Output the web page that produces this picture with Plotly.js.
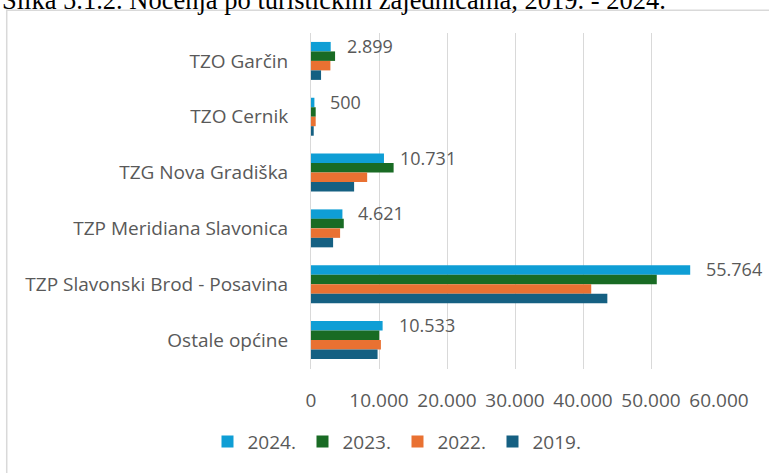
<!DOCTYPE html>
<html>
<head>
<meta charset="utf-8">
<script src="https://cdn.plot.ly/plotly-3.0.1.min.js"></script>
<style>html,body{margin:0;padding:0;background:#fff;}#chart{width:769px;height:473px;}</style>
</head>
<body>
<div id="chart"></div>
<script>
const categories = ['TZO Garčin','TZO Cernik','TZG Nova Gradiška','TZP Meridiana Slavonica','TZP Slavonski Brod - Posavina','Ostale općine'];
const years = ['2024.','2023.','2022.','2019.'];
const v2024 = [2899, 500, 10731, 4621, 55764, 10533];
const v2023 = [3540, 690, 12150, 4820, 50850, 10030];
const v2022 = [2850, 690, 8260, 4280, 41210, 10280];
const v2019 = [1480, 400, 6340, 3250, 43580, 9790];
const xTicks = [0, 10000, 20000, 30000, 40000, 50000, 60000];
const caption = 'Slika 5.1.2. Noćenja po turističkim zajednicama, 2019. - 2024.';

const colors = ['#0F9ED5', '#196B24', '#E97132', '#156082'];
const series = [v2024, v2023, v2022, v2019];
const FONT = 'Open Sans, sans-serif';
const GREY = '#595959';

function fmt(n){ return String(n).replace(/\B(?=(\d{3})+(?!\d))/g, '.'); }

const traces = series.map((vals, i) => ({
  type: 'bar', orientation: 'h', name: years[i],
  x: vals, y: categories,
  marker: {color: colors[i]},
  hoverinfo: 'skip'
}));

const annotations = categories.map((c, i) => ({
  x: v2024[i], y: c, xref: 'x', yref: 'y',
  text: fmt(v2024[i]), showarrow: false,
  xanchor: 'left', yanchor: 'middle', xshift: 14, yshift: 15,
  font: {family: FONT, size: 18, color: GREY}
}));
annotations.push({
  xref: 'paper', yref: 'paper', x: -0.763, y: 1.099, xanchor: 'left', yanchor: 'middle',
  text: caption, showarrow: false,
  font: {family: 'Liberation Serif, Times New Roman, serif', size: 26.5, color: '#000'}
});

const layout = {
  width: 769, height: 473,
  margin: {l: 311, r: 50, t: 33, b: 99},
  paper_bgcolor: '#fff', plot_bgcolor: '#fff',
  separators: ',.',
  barmode: 'group', bargap: 0.32, bargroupgap: 0,
  font: {family: FONT, size: 19, color: GREY},
  xaxis: {
    range: [0, 60000], tickvals: xTicks, ticktext: xTicks.map(fmt),
    showgrid: true, gridcolor: '#d9d9d9', gridwidth: 1,
    zeroline: false, showline: false,
    ticks: 'outside', ticklen: 14, tickcolor: 'rgba(0,0,0,0)',
    tickfont: {family: FONT, size: 19, color: GREY}, fixedrange: true
  },
  yaxis: {
    type: 'category', categoryorder: 'array', categoryarray: categories,
    autorange: 'reversed', showgrid: false, zeroline: false,
    showline: true, linecolor: '#d9d9d9', linewidth: 1,
    ticks: 'outside', ticklen: 18, tickcolor: 'rgba(0,0,0,0)',
    tickfont: {family: FONT, size: 19, color: GREY}, fixedrange: true
  },
  showlegend: true,
  legend: {
    orientation: 'h', x: 0.212, xanchor: 'center', y: -0.16, yanchor: 'top',
    traceorder: 'normal', font: {family: FONT, size: 19, color: GREY},
    itemwidth: 30, entrywidth: 50, itemclick: false
  },
  annotations: annotations,
  shapes: [{
    type: 'rect', xref: 'paper', yref: 'paper', x0: -0.7458, x1: 1.5, y0: -0.6, y1: 1.0675,
    line: {color: '#d9d9d9', width: 1.5}, fillcolor: 'rgba(0,0,0,0)', layer: 'below'
  }]
};

Plotly.newPlot('chart', traces, layout, {displayModeBar: false, staticPlot: true});
</script>
</body>
</html>
